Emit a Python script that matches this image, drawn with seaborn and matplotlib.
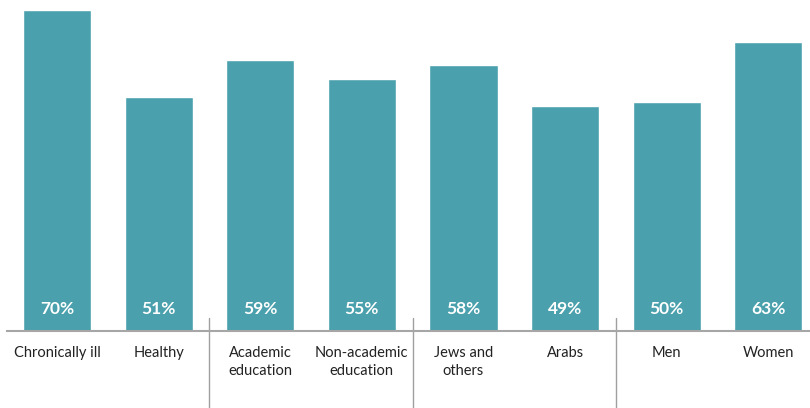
import matplotlib
matplotlib.use("Agg")
import matplotlib.pyplot as plt
import seaborn as sns
import pandas as pd

categories = ["Chronically ill", "Healthy", "Academic\neducation", "Non-academic\neducation",
              "Jews and\nothers", "Arabs", "Men", "Women"]
values = [70, 51, 59, 55, 58, 49, 50, 63]
group_breaks = [1.5, 3.5, 5.5]

sns.set_theme(style="white")
plt.rcParams["font.family"] = ["Lato", "DejaVu Sans"]

df = pd.DataFrame({"category": categories, "value": values})

fig = plt.figure(figsize=(8.10, 4.08), dpi=100)
ax = fig.add_axes([7 / 810, 77 / 408, 1 - 7 / 810, 331 / 408])

bar_color = "#4AA0AC"
sns.barplot(data=df, x="category", y="value", color=bar_color, saturation=1,
            width=0.67, ax=ax)

ax.set_xlim(-0.492, 7.41)
ax.set_ylim(0, 72.18)

# value labels near the base of each bar
for i, v in enumerate(values):
    ax.text(i, 4.8, f"{v}%", ha="center", va="center", color="white",
            fontsize=12.5, fontweight="bold")

# group separators
for x in group_breaks:
    ax.plot([x, x], [2.8, -16.8], color="#A0A0A0", lw=1.0, clip_on=False)

ax.set_xlabel("")
ax.set_ylabel("")
ax.set_yticks([])
ax.tick_params(axis="x", length=0, pad=11, labelsize=10.5, colors="#222222")
for lab in ax.get_xticklabels():
    lab.set_linespacing(1.35)
for s in ["top", "right", "left"]:
    ax.spines[s].set_visible(False)
ax.spines["bottom"].set_color("#A6A6A6")
ax.spines["bottom"].set_linewidth(1.5)

fig.savefig("out.png", dpi=100)
